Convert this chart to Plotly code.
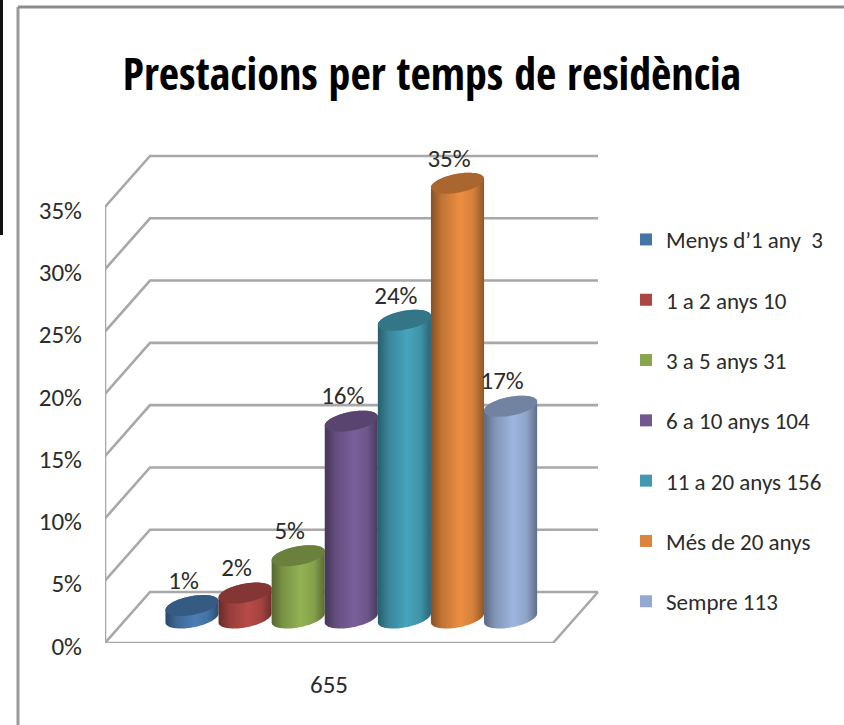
import numpy as np
import plotly.graph_objects as go

# ---- data ----
series_names = ["Menys d’1 any  3", "1 a 2 anys 10", "3 a 5 anys 31", "6 a 10 anys 104",
                "11 a 20 anys 156", "Més de 20 anys", "Sempre 113"]
series_values = [1.0, 2.0, 5.0, 15.8, 23.9, 34.9, 17.0]
series_colors = ["#4675a8", "#aa4643", "#89a54e", "#71588f", "#4198af", "#db843d", "#93a9cf"]
y_ticks = [0, 5, 10, 15, 20, 25, 30, 35]
category_label = "655"

# ---- chart geometry ----
W, H = 844, 725
L, R, T, B = 105, 244, 143, 82
PX_Y = 12.457          # pixels per percentage point
PX_X = 53.1            # pixels per cylinder
X0_PX = 192            # pixel centre of first cylinder
xmin = (L - X0_PX) / PX_X
xmax = (W - R - X0_PX) / PX_X
ymax = (H - B - T) / PX_Y
DX, DY = 45 / PX_X, 51 / PX_Y      # depth of the 3-D box
FLOOR_W = 448 / PX_X
BASE = 25 / PX_Y                   # cylinder base centre above the front floor line
A, EB, ET = 0.5, 9.5 / PX_Y, 4.5 / PX_Y   # ellipse half width, half height, tilt
GRID = "#a8a8a8"
TXT = "#2b2b2b"
FONT = "Carlito"
TITLE_FONT = "Open Sans Condensed"


def shade(c, k):
    r, g, b = [int(c[i:i + 2], 16) for i in (1, 3, 5)]
    return "rgb(%d,%d,%d)" % tuple(min(255, int(v * k)) for v in (r, g, b))


def ellipse(cx, cy, t):
    return cx + A * np.cos(t), cy + EB * np.sin(t) + ET * np.cos(t)


fig = go.Figure()

# real bars (carry the values and the legend); the cylinders are drawn on top
for i, (n, v, c) in enumerate(zip(series_names, series_values, series_colors)):
    fig.add_trace(go.Bar(x=[i], y=[v], base=BASE, width=0.88, name=n, marker_color=c,
                         marker_line_width=0, legendgroup=n, hoverinfo="name+y"))

# box: walls and floor
x_front = xmin
grid_x, grid_y = [], []
for v in y_ticks:
    grid_x += [x_front, x_front + DX, x_front + DX + FLOOR_W, None]
    grid_y += [v, v + DY, v + DY, None]
grid_x += [x_front, x_front, None, x_front, x_front + FLOOR_W, x_front + FLOOR_W + DX]
grid_y += [0, y_ticks[-1], None, 0, 0, DY]
fig.add_trace(go.Scatter(x=grid_x, y=grid_y, mode="lines", showlegend=False, hoverinfo="skip",
                         line=dict(color=GRID, width=2.6), cliponaxis=False))

# cylinders
for i, (n, v, c) in enumerate(zip(series_names, series_values, series_colors)):
    top = BASE + v
    bx, by = ellipse(i, BASE, np.linspace(-np.pi, 0, 40))
    tx, ty = ellipse(i, top, np.linspace(0, np.pi, 40))
    xs = np.r_[bx, tx]
    ys = np.r_[by, ty]
    scale = [[0, shade(c, .62)], [.2, shade(c, .88)], [.55, shade(c, 1.08)],
             [.8, shade(c, .97)], [1, shade(c, .66)]]
    fig.add_trace(go.Scatter(x=xs, y=ys, mode="none", fill="toself", showlegend=False,
                             legendgroup=n, hoverinfo="skip", cliponaxis=False,
                             fillgradient=dict(type="horizontal", colorscale=scale)))
    cx, cy = ellipse(i, top, np.linspace(0, 2 * np.pi, 80))
    fig.add_trace(go.Scatter(x=cx, y=cy, mode="none", fill="toself", fillcolor=shade(c, .78),
                             showlegend=False, legendgroup=n, hoverinfo="skip", cliponaxis=False))

# data labels
fig.add_trace(go.Scatter(
    x=[i - 8.5 / PX_X for i in range(len(series_values))],
    y=[BASE + v + 23 / PX_Y for v in series_values],
    mode="text", text=[f"{round(v)}%" for v in series_values], textposition="middle center",
    textfont=dict(family=FONT, size=25, color=TXT), showlegend=False, hoverinfo="skip",
    cliponaxis=False))

frame = [
    dict(type="line", x0=18, x1=18, y0=7, y1=H, line=dict(color="#9a9a9a", width=3)),
    dict(type="line", x0=18, x1=W, y0=7, y1=7, line=dict(color="#8c8c8c", width=3)),
    dict(type="line", x0=1.5, x1=1.5, y0=0, y1=235, line=dict(color="#111111", width=3)),
]
plot_w, plot_h = W - L - R, H - T - B
for s in frame:
    s.update(xref="paper", yref="paper", layer="below",
             x0=(s["x0"] - L) / plot_w, x1=(s["x1"] - L) / plot_w,
             y0=(H - B - s["y0"]) / plot_h, y1=(H - B - s["y1"]) / plot_h)

fig.update_layout(
    width=W, height=H, margin=dict(l=L, r=R, t=T, b=B, autoexpand=False),
    paper_bgcolor="white", plot_bgcolor="rgba(0,0,0,0)", barmode="overlay", shapes=frame,
    title=dict(text="Prestacions per temps de residència", x=432 / W, xanchor="center",
               y=1 - 75 / H, yanchor="middle",
               font=dict(family=TITLE_FONT, size=44, color="black", weight="bold")),
    xaxis=dict(range=[xmin, xmax], showgrid=False, zeroline=False, showline=False,
               tickmode="array", tickvals=[xmin + FLOOR_W / 2], ticktext=[category_label],
               ticks="", ticklabelstandoff=24, tickfont=dict(family=FONT, size=25, color=TXT)),
    yaxis=dict(range=[0, ymax], showgrid=False, zeroline=False, showline=False,
               tickmode="array", tickvals=y_ticks, ticktext=[f"{v}%" for v in y_ticks],
               ticks="", ticklabelstandoff=22, ticklabelshift=3,
               tickfont=dict(family=FONT, size=25, color=TXT)),
    legend=dict(x=(626 - L) / plot_w, xanchor="left", y=(H - B - 218) / plot_h, yanchor="top",
                font=dict(family=FONT, size=23, color=TXT), tracegroupgap=27.4,
                bgcolor="rgba(0,0,0,0)", traceorder="grouped", itemclick=False, itemdoubleclick=False),
    showlegend=True,
)

fig.write_html("out.html", post_script="document.body.style.margin='0';",
               config={"displayModeBar": False})
